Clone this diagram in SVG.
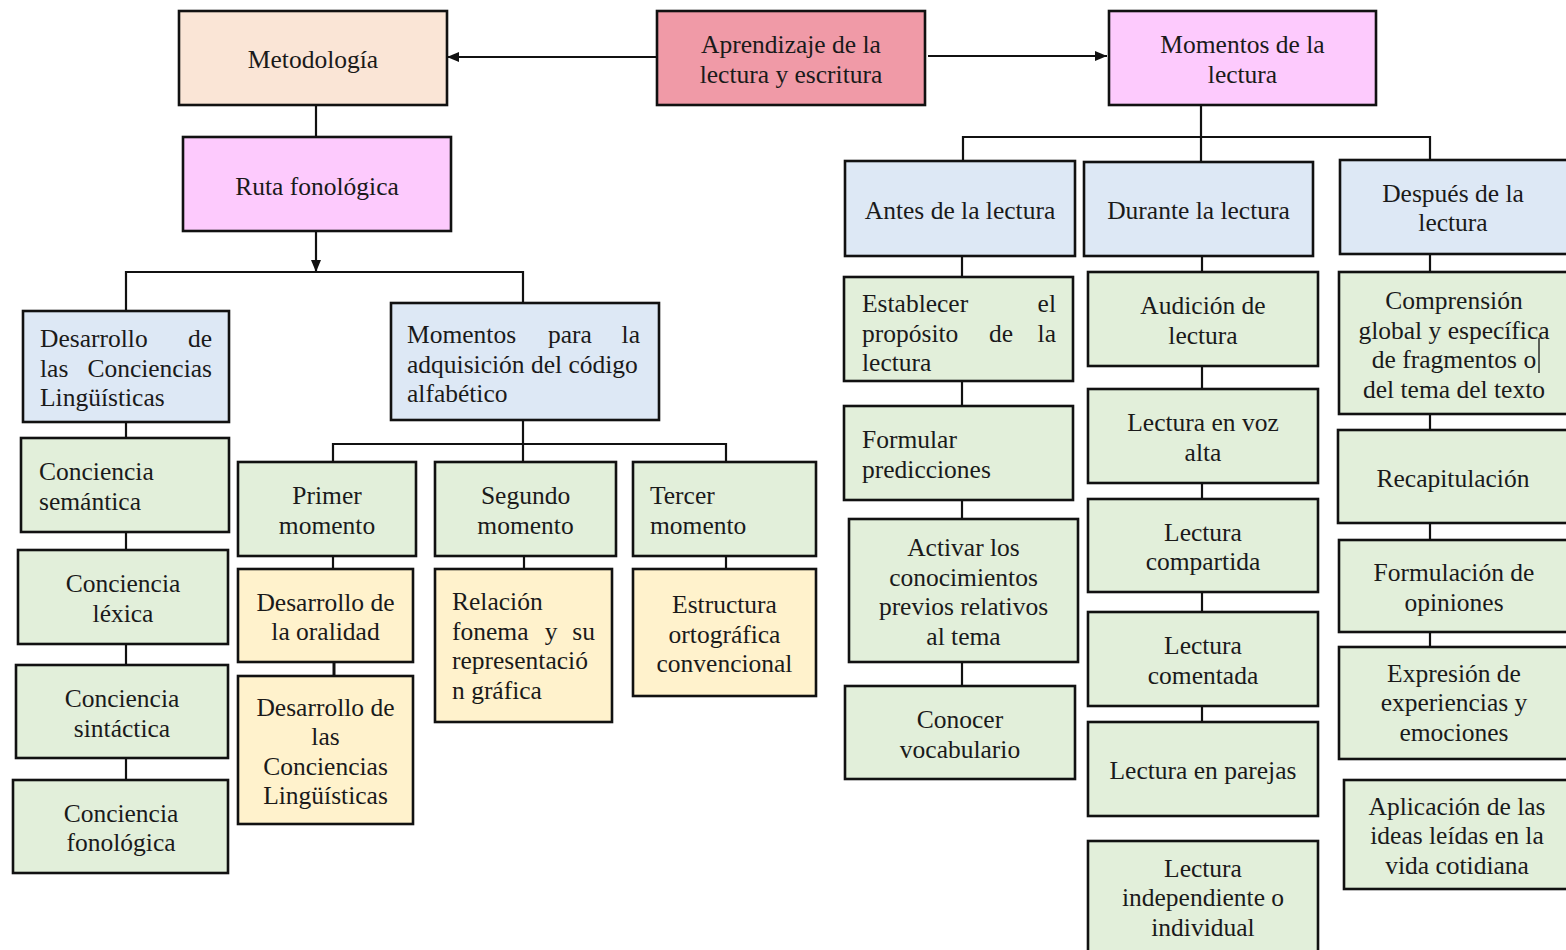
<svg xmlns="http://www.w3.org/2000/svg" width="1566" height="950" viewBox="0 0 1566 950">
<style>
.b{stroke:#111;stroke-width:2.6}
.peach{fill:#FAE5D6}.red{fill:#F09AA7}.pink{fill:#FDCAFD}.blue{fill:#DDE8F5}.green{fill:#E2EFDA}.yellow{fill:#FFF2CC}
text{font-family:"Liberation Serif","Times New Roman",Tinos,"Nimbus Roman","Nimbus Roman No9 L",FreeSerif,"Noto Serif","DejaVu Serif",Times,serif;font-size:25.5px;fill:#1a1a1a}
.c{text-anchor:middle}.e{text-anchor:end}
#connectors line,#connectors polyline{stroke:#111;stroke-width:2.2;fill:none}
</style>
<defs>
<marker id="ah" viewBox="0 0 12 10" refX="12" refY="5" markerWidth="12" markerHeight="10" markerUnits="userSpaceOnUse" orient="auto">
<path d="M0,0 L12,5 L0,10 z" fill="#111"/>
</marker>
</defs>
<rect width="1566" height="950" fill="#fff"/>

<g id="connectors">
<line x1="657" y1="57" x2="447" y2="57" marker-end="url(#ah)"/>
<line x1="928" y1="56" x2="1107" y2="56" marker-end="url(#ah)"/>
<line x1="316" y1="105" x2="316" y2="137"/>
<line x1="316" y1="231" x2="316" y2="272" marker-end="url(#ah)"/>
<polyline points="126,311 126,272 523,272 523,303"/>
<line x1="126" y1="422" x2="126" y2="438"/>
<line x1="126" y1="532" x2="126" y2="550"/>
<line x1="126" y1="644" x2="126" y2="665"/>
<line x1="126" y1="758" x2="126" y2="780"/>
<line x1="523" y1="420" x2="523" y2="462"/>
<polyline points="333,462 333,444 726,444 726,462"/>
<line x1="333" y1="556" x2="333" y2="569"/>
<line x1="524" y1="556" x2="524" y2="569"/>
<line x1="726" y1="556" x2="726" y2="569"/>
<line x1="334" y1="662" x2="334" y2="676" style="stroke-width:3"/>
<line x1="1201" y1="105" x2="1201" y2="162"/>
<polyline points="963,161 963,137 1430,137 1430,160"/>
<line x1="962" y1="256" x2="962" y2="277"/>
<line x1="962" y1="381" x2="962" y2="406"/>
<line x1="962" y1="500" x2="962" y2="519"/>
<line x1="962" y1="662" x2="962" y2="686"/>
<line x1="1202" y1="256" x2="1202" y2="272"/>
<line x1="1202" y1="366" x2="1202" y2="389"/>
<line x1="1202" y1="483" x2="1202" y2="499"/>
<line x1="1202" y1="592" x2="1202" y2="612"/>
<line x1="1202" y1="706" x2="1202" y2="722"/>
<line x1="1430" y1="254" x2="1430" y2="272"/>
<line x1="1430" y1="414" x2="1430" y2="430"/>
<line x1="1430" y1="523" x2="1430" y2="540"/>
<line x1="1430" y1="632" x2="1430" y2="647"/>
</g>

<g id="metodologia"><rect class="b peach" x="179" y="11" width="268" height="94"/><text class="c" x="313" y="68">Metodología</text></g>
<g id="aprendizaje"><rect class="b red" x="657" y="11" width="268" height="94"/><text class="c" x="791" y="53">Aprendizaje de la</text><text class="c" x="791" y="82.5">lectura y escritura</text></g>
<g id="momentos-lectura"><rect class="b pink" x="1109" y="11" width="267" height="94"/><text class="c" x="1242.5" y="53">Momentos de la</text><text class="c" x="1242.5" y="82.5">lectura</text></g>
<g id="ruta"><rect class="b pink" x="183" y="137" width="268" height="94"/><text class="c" x="317" y="194.5">Ruta fonológica</text></g>

<g id="desarrollo-cl"><rect class="b blue" x="23" y="311" width="206" height="111"/>
<text x="40" y="347">Desarrollo</text><text class="e" x="212" y="347">de</text>
<text x="40" y="376.5">las</text><text class="e" x="212" y="376.5">Conciencias</text>
<text x="40" y="406">Lingüísticas</text></g>
<g id="c-semantica"><rect class="b green" x="21" y="438" width="208" height="94"/><text x="39" y="480">Conciencia</text><text x="39" y="509.5">semántica</text></g>
<g id="c-lexica"><rect class="b green" x="18" y="550" width="210" height="94"/><text class="c" x="123" y="592">Conciencia</text><text class="c" x="123" y="621.5">léxica</text></g>
<g id="c-sintactica"><rect class="b green" x="16" y="665" width="212" height="93"/><text class="c" x="122" y="707">Conciencia</text><text class="c" x="122" y="736.5">sintáctica</text></g>
<g id="c-fonologica"><rect class="b green" x="13" y="780" width="215" height="93"/><text class="c" x="121" y="821.5">Conciencia</text><text class="c" x="121" y="851">fonológica</text></g>

<g id="momentos-para"><rect class="b blue" x="391" y="303" width="268" height="117"/>
<text x="407" y="343">Momentos</text><text class="c" x="570" y="343">para</text><text class="e" x="640" y="343">la</text>
<text x="407" y="372.5">adquisición del código</text>
<text x="407" y="402">alfabético</text></g>
<g id="primer"><rect class="b green" x="238" y="462" width="178" height="94"/><text class="c" x="327" y="504">Primer</text><text class="c" x="327" y="533.5">momento</text></g>
<g id="segundo"><rect class="b green" x="435" y="462" width="181" height="94"/><text class="c" x="525.5" y="504">Segundo</text><text class="c" x="525.5" y="533.5">momento</text></g>
<g id="tercer"><rect class="b green" x="633" y="462" width="183" height="94"/><text x="650" y="504">Tercer</text><text x="650" y="533.5">momento</text></g>
<g id="oralidad"><rect class="b yellow" x="238" y="569" width="175" height="93"/><text class="c" x="325.5" y="610.5">Desarrollo de</text><text class="c" x="325.5" y="640">la oralidad</text></g>
<g id="desarrollo-cl2"><rect class="b yellow" x="238" y="676" width="175" height="148"/>
<text class="c" x="325.5" y="715.5">Desarrollo de</text><text class="c" x="325.5" y="745">las</text><text class="c" x="325.5" y="774.5">Conciencias</text><text class="c" x="325.5" y="804">Lingüísticas</text></g>
<g id="relacion"><rect class="b yellow" x="435" y="569" width="177" height="153"/>
<text x="452" y="610">Relación</text>
<text x="452" y="639.5">fonema</text><text class="c" x="551" y="639.5">y</text><text class="e" x="595" y="639.5">su</text>
<text x="452" y="669">representació</text>
<text x="452" y="698.5">n gráfica</text></g>
<g id="estructura"><rect class="b yellow" x="633" y="569" width="183" height="127"/>
<text class="c" x="724.5" y="613">Estructura</text><text class="c" x="724.5" y="642.5">ortográfica</text><text class="c" x="724.5" y="672">convencional</text></g>

<g id="antes"><rect class="b blue" x="845" y="161" width="230" height="95"/><text class="c" x="960" y="218.5">Antes de la lectura</text></g>
<g id="durante"><rect class="b blue" x="1084" y="162" width="229" height="94"/><text class="c" x="1198.5" y="219">Durante la lectura</text></g>
<g id="despues"><rect class="b blue" x="1340" y="160" width="240" height="94"/><text class="c" x="1453" y="201.5">Después de la</text><text class="c" x="1453" y="231">lectura</text></g>

<g id="establecer"><rect class="b green" x="844" y="277" width="229" height="104"/>
<text x="862" y="312">Establecer</text><text class="e" x="1056" y="312">el</text>
<text x="862" y="341.5">propósito</text><text class="c" x="1001" y="341.5">de</text><text class="e" x="1056" y="341.5">la</text>
<text x="862" y="371">lectura</text></g>
<g id="formular"><rect class="b green" x="844" y="406" width="229" height="94"/><text x="862" y="448">Formular</text><text x="862" y="477.5">predicciones</text></g>
<g id="activar"><rect class="b green" x="849" y="519" width="229" height="143"/>
<text class="c" x="963.5" y="556">Activar los</text><text class="c" x="963.5" y="585.5">conocimientos</text><text class="c" x="963.5" y="615">previos relativos</text><text class="c" x="963.5" y="644.5">al tema</text></g>
<g id="conocer"><rect class="b green" x="845" y="686" width="230" height="93"/><text class="c" x="960" y="728">Conocer</text><text class="c" x="960" y="757.5">vocabulario</text></g>

<g id="audicion"><rect class="b green" x="1088" y="272" width="230" height="94"/><text class="c" x="1203" y="314">Audición de</text><text class="c" x="1203" y="343.5">lectura</text></g>
<g id="voz-alta"><rect class="b green" x="1088" y="389" width="230" height="94"/><text class="c" x="1203" y="431">Lectura en voz</text><text class="c" x="1203" y="460.5">alta</text></g>
<g id="compartida"><rect class="b green" x="1088" y="499" width="230" height="93"/><text class="c" x="1203" y="540.5">Lectura</text><text class="c" x="1203" y="570">compartida</text></g>
<g id="comentada"><rect class="b green" x="1088" y="612" width="230" height="94"/><text class="c" x="1203" y="654">Lectura</text><text class="c" x="1203" y="683.5">comentada</text></g>
<g id="parejas"><rect class="b green" x="1088" y="722" width="230" height="94"/><text class="c" x="1203" y="779">Lectura en parejas</text></g>
<g id="independiente"><rect class="b green" x="1088" y="841" width="230" height="112"/>
<text class="c" x="1203" y="876.5">Lectura</text><text class="c" x="1203" y="906">independiente o</text><text class="c" x="1203" y="935.5">individual</text></g>

<g id="comprension"><rect class="b green" x="1339" y="272" width="240" height="142"/>
<text class="c" x="1454" y="309">Comprensión</text><text class="c" x="1454" y="338.5">global y específica</text><text class="c" x="1454" y="368">de fragmentos o</text><text class="c" x="1454" y="397.5">del tema del texto</text>
<line x1="1539" y1="338" x2="1539" y2="373" stroke="#111" stroke-width="1.3"/></g>
<g id="recapitulacion"><rect class="b green" x="1338" y="430" width="240" height="93"/><text class="c" x="1453" y="487">Recapitulación</text></g>
<g id="opiniones"><rect class="b green" x="1339" y="540" width="240" height="92"/><text class="c" x="1454" y="581">Formulación de</text><text class="c" x="1454" y="610.5">opiniones</text></g>
<g id="expresion"><rect class="b green" x="1339" y="647" width="240" height="112"/>
<text class="c" x="1454" y="681.5">Expresión de</text><text class="c" x="1454" y="711">experiencias y</text><text class="c" x="1454" y="740.5">emociones</text></g>
<g id="aplicacion"><rect class="b green" x="1344" y="780" width="236" height="109"/>
<text class="c" x="1457" y="814.5">Aplicación de las</text><text class="c" x="1457" y="844">ideas leídas en la</text><text class="c" x="1457" y="873.5">vida cotidiana</text></g>
</svg>
